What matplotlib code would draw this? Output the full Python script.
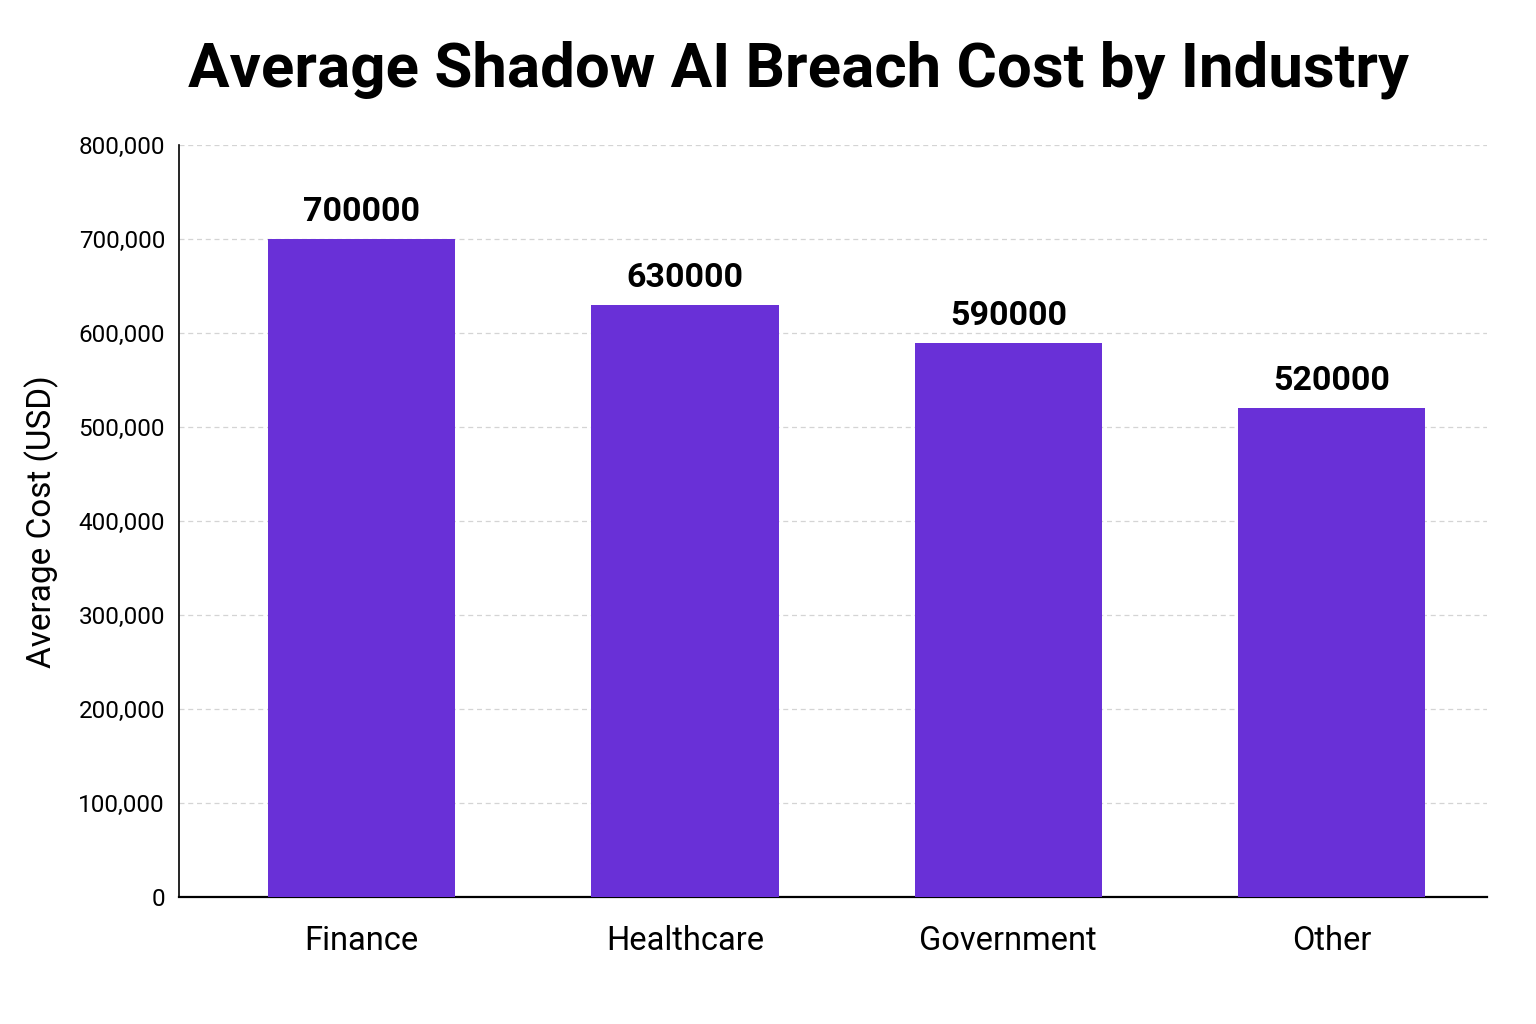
import matplotlib
matplotlib.use("Agg")
import matplotlib.pyplot as plt
from matplotlib.ticker import FuncFormatter

industries = ["Finance", "Healthcare", "Government", "Other"]
avg_cost = [700000, 630000, 590000, 520000]
y_ticks = [0, 100000, 200000, 300000, 400000, 500000, 600000, 700000, 800000]

BAR_COLOR = "#6930D7"

plt.rcParams["font.family"] = ["Roboto", "DejaVu Sans"]

fig = plt.figure(figsize=(15.36, 10.24), dpi=100)
ax = fig.add_axes([0.1165, 0.124, 0.8515, 0.734])

x = range(len(industries))
bars = ax.bar(x, avg_cost, width=0.58, color=BAR_COLOR, zorder=3)

# value labels above each bar
for rect, val in zip(bars, avg_cost):
    ax.annotate(f"{val}", xy=(rect.get_x() + rect.get_width() / 2, val),
                xytext=(0, 8), textcoords="offset points",
                ha="center", va="bottom", fontsize=24.5, fontweight="bold")

ax.set_xlim(-0.565, 3.48)
ax.set_ylim(0, 800000)
ax.set_yticks(y_ticks)
ax.yaxis.set_major_formatter(FuncFormatter(lambda v, p: f"{int(v):,}"))
ax.set_xticks(list(x))
ax.set_xticklabels(industries)

ax.tick_params(axis="y", length=0, labelsize=17.5, pad=10)
ax.tick_params(axis="x", length=0, labelsize=23.5, pad=20)

ax.grid(axis="y", linestyle=(0, (4, 3)), color="#d4d4d4", linewidth=0.9, zorder=0)
ax.set_axisbelow(True)
for side in ("top", "right"):
    ax.spines[side].set_visible(False)
ax.spines["left"].set_linewidth(1.2)
ax.spines["bottom"].set_linewidth(1.6)

ax.set_ylabel("Average Cost (USD)", fontsize=24, labelpad=14)

fig.text(0.52, 0.932, "Average Shadow AI Breach Cost by Industry",
         ha="center", va="center", fontsize=44.5, fontweight="bold")

fig.savefig("out.png", dpi=100)
